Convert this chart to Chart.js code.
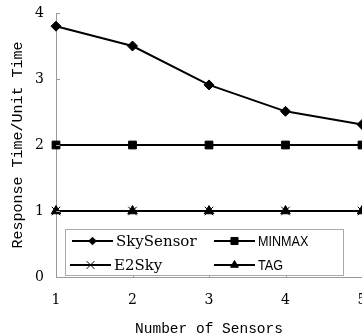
<!DOCTYPE html>
<html><head><meta charset="utf-8">
<script src="https://cdn.jsdelivr.net/npm/chart.js@4/dist/chart.umd.min.js"></script>
<style>
html,body{margin:0;padding:0;background:#fff;overflow:hidden;width:362px;height:334px;}
#wrap{position:absolute;left:0;top:0;width:400px;height:340px;}
</style></head><body>
<div id="wrap"><canvas id="c" width="400" height="340"></canvas></div>
<script>
// ---- data ----
const categories = ['1', '2', '3', '4', '5'];
const skySensor = [3.8, 3.5, 2.91, 2.51, 2.31];
const minmax = [2, 2, 2, 2, 2];
const e2sky = [1, 1, 1, 1, 1];
const tag = [1, 1, 1, 1, 1];
const seriesNames = ['SkySensor', 'MINMAX', 'E2Sky', 'TAG'];
const yAxisTitle = 'Response Time/Unit Time';
const xAxisTitle = 'Number of Sensors';

// ---- styles ----
function ds(label, data, style, radius) {
  return {
    label, data, pointStyle: style, pointRadius: radius, pointHoverRadius: radius,
    borderColor: '#000', backgroundColor: '#000', borderWidth: 2,
    pointBorderColor: '#000', pointBackgroundColor: '#000', pointBorderWidth: 1,
    tension: 0, fill: false, clip: false
  };
}

const legendSlots = [
  {x: 72, y: 241, font: '15px "DejaVu Serif"', r: 3.8, sx: 1},
  {x: 214, y: 241, font: '14px "Liberation Sans Narrow", "Liberation Sans"', r: 5, sx: 0.9},
  {x: 70, y: 265, font: '15px "DejaVu Serif"', r: 5.5, sx: 1},
  {x: 214, y: 265, font: '14px "Liberation Sans Narrow", "Liberation Sans"', r: 4.5, sx: 0.9}
];

const extras = {
  id: 'extras',
  afterDatasetsDraw(chart) {
    const ctx = chart.ctx, ca = chart.chartArea;
    const xs = chart.scales.x, ys = chart.scales.y;
    ctx.save();
    ctx.strokeStyle = '#999'; ctx.lineWidth = 1;
    ctx.beginPath();
    xs.ticks.forEach((t, i) => {
      const px = Math.round(xs.getPixelForTick(i)) + 0.5;
      ctx.moveTo(px, ca.bottom); ctx.lineTo(px, ca.bottom - 4);
    });
    ys.ticks.forEach((t, i) => {
      const py = Math.round(ys.getPixelForTick(i)) + 0.5;
      ctx.moveTo(ca.left, py); ctx.lineTo(ca.left + 4, py);
    });
    ctx.stroke();
    // legend box
    const bx = 65.5, by = 229.5, bw = 278, bh = 46;
    ctx.fillStyle = '#fff'; ctx.fillRect(bx, by, bw, bh);
    ctx.strokeStyle = '#aaa'; ctx.strokeRect(bx, by, bw, bh);
    chart.data.datasets.forEach((d, i) => {
      const s = legendSlots[i];
      ctx.strokeStyle = d.borderColor; ctx.lineWidth = 2;
      ctx.beginPath(); ctx.moveTo(s.x, s.y); ctx.lineTo(s.x + 41, s.y); ctx.stroke();
      ctx.fillStyle = d.pointBackgroundColor; ctx.strokeStyle = d.pointBorderColor; ctx.lineWidth = 1;
      Chart.helpers.drawPoint(ctx, {pointStyle: d.pointStyle, radius: s.r, borderWidth: 1, rotation: 0}, s.x + 20.5, s.y);
      ctx.fillStyle = '#000'; ctx.font = s.font; ctx.textBaseline = 'middle'; ctx.textAlign = 'left';
      ctx.save();
      ctx.translate(s.x + 44, s.y + 1);
      ctx.scale(s.sx, 1);
      ctx.fillText(d.label, 0, 0);
      ctx.restore();
    });
    ctx.restore();
  }
};

new Chart(document.getElementById('c'), {
  type: 'line',
  data: {
    labels: categories,
    datasets: [
      ds(seriesNames[0], skySensor, 'rectRot', 5),
      ds(seriesNames[1], minmax, 'rect', 5.5),
      ds(seriesNames[2], e2sky, 'crossRot', 6),
      ds(seriesNames[3], tag, 'triangle', 5.5)
    ]
  },
  options: {
    responsive: false, animation: false, devicePixelRatio: 1,
    layout: {padding: {top: 13, right: 38, left: 0, bottom: 0}},
    plugins: {legend: {display: false}, tooltip: {enabled: false}},
    scales: {
      x: {
        type: 'category', offset: false,
        grid: {display: true, drawOnChartArea: false, drawTicks: false},
        border: {display: true, color: '#999', width: 1},
        ticks: {color: '#000', padding: 15, font: {family: 'DejaVu Serif', size: 14}, maxRotation: 0},
        title: {display: true, text: xAxisTitle, color: '#000', font: {family: 'Liberation Mono', size: 14.5, lineHeight: 1}, padding: {top: 0, bottom: 4}},
        afterFit: (s) => { s.height = 63; }
      },
      y: {
        min: 0, max: 4,
        grid: {display: true, drawOnChartArea: false, drawTicks: false},
        border: {display: true, color: '#999', width: 1},
        ticks: {stepSize: 1, color: '#000', padding: 12, font: {family: 'DejaVu Serif', size: 14}},
        title: {display: true, text: yAxisTitle, color: '#000', font: {family: 'Liberation Mono', size: 15, lineHeight: 1}, padding: {top: 10.5, bottom: 0}},
        afterFit: (s) => { s.width = 56; s.paddingTop = 0; s.paddingBottom = 0; }
      }
    }
  },
  plugins: [extras]
});
</script>
</body></html>
